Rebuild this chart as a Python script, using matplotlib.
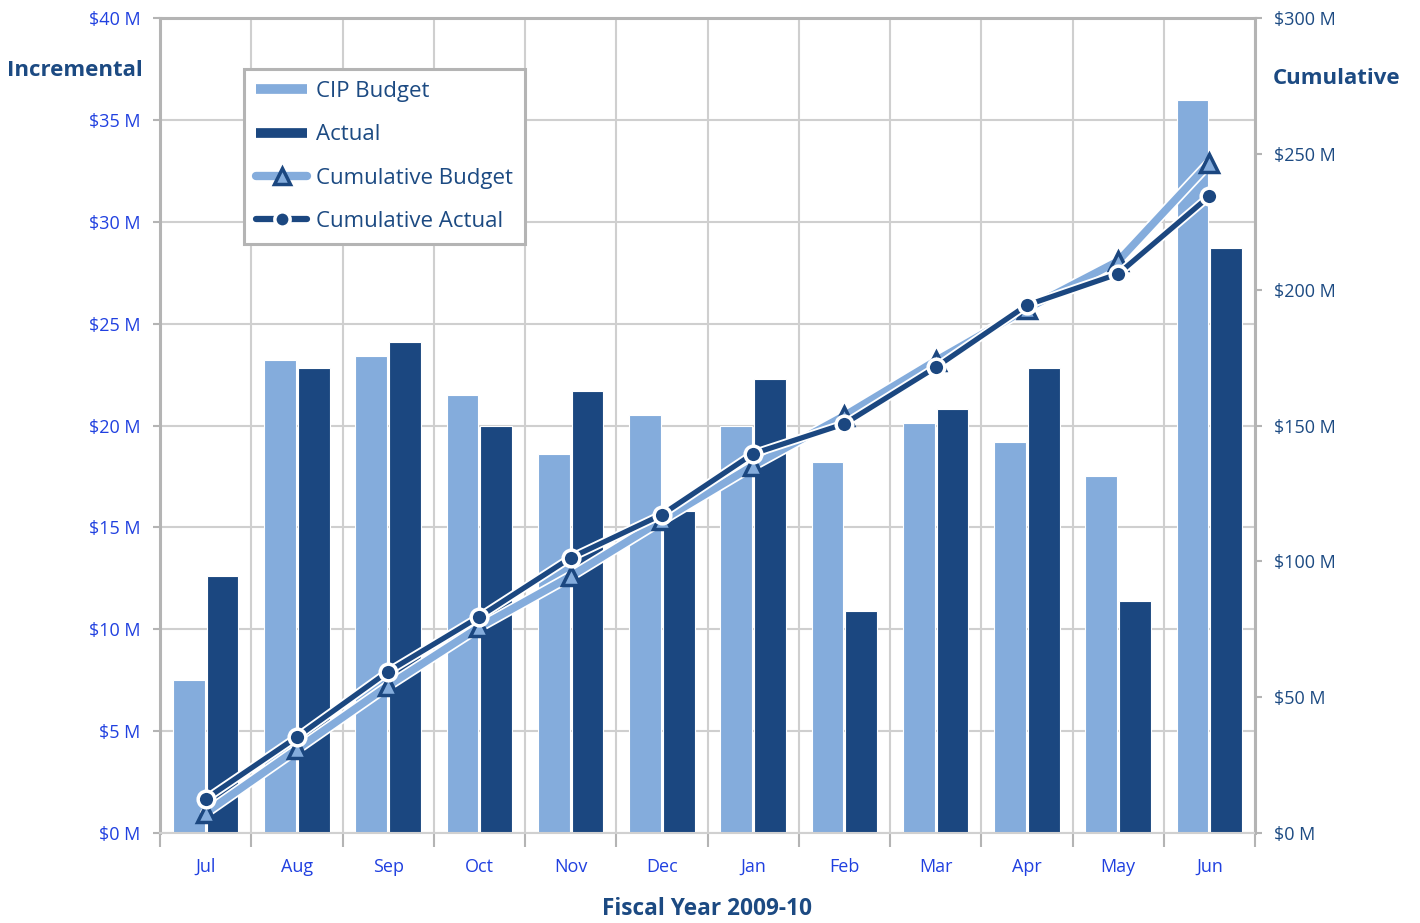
import matplotlib
matplotlib.use('Agg')
import matplotlib.pyplot as plt
import numpy as np
from matplotlib.lines import Line2D
import matplotlib.patheffects as pe

months = ['Jul', 'Aug', 'Sep', 'Oct', 'Nov', 'Dec', 'Jan', 'Feb', 'Mar', 'Apr', 'May', 'Jun']
budget = [7.5, 23.2, 23.4, 21.5, 18.6, 20.5, 20.0, 18.2, 20.1, 19.2, 17.5, 36.0]
actual = [12.6, 22.8, 24.1, 20.0, 21.7, 15.8, 22.3, 10.9, 20.8, 22.8, 11.4, 28.7]
cum_budget = [7.4, 30.8, 54.2, 75.8, 94.5, 115.1, 135.2, 153.6, 173.8, 193.0, 210.5, 246.6]
cum_actual = [12.5, 35.3, 59.4, 79.6, 101.3, 117.2, 139.6, 150.6, 171.4, 194.3, 205.8, 234.4]
left_ticks = [0, 5, 10, 15, 20, 25, 30, 35, 40]
right_ticks = [0, 50, 100, 150, 200, 250, 300]

LIGHT = '#84acdc'
DARK = '#1b4780'
GRID = '#cfcfcf'
SPINE = '#b4b4b4'
TICKBLUE = '#2040e0'
NAVY = '#1c4a82'
FONT = 'Open Sans'

W, H = 1420, 923
fig = plt.figure(figsize=(W / 100, H / 100), dpi=100)
ax = fig.add_axes([160 / W, 90 / H, 1095 / W, 815 / H])

x = np.arange(len(months))
bw = 0.35
ax.bar(x - 0.185, budget, bw, color=LIGHT, edgecolor='white', linewidth=0.8, zorder=2)
ax.bar(x + 0.185, actual, bw, color=DARK, edgecolor='white', linewidth=0.8, zorder=2)

ax.set_xlim(-0.5, len(months) - 0.5)
ax.set_ylim(0, 40)
ax.set_yticks(left_ticks)
ax.set_yticklabels([f'${v} M' for v in left_ticks], fontfamily=FONT, fontsize=13, color=TICKBLUE)
ax.set_xticks(x)
ax.set_xticklabels(months, fontfamily=FONT, fontsize=13, color=TICKBLUE)
ax.set_xticks(np.arange(-0.5, len(months), 1), minor=True)
ax.tick_params(axis='x', which='major', length=0, pad=18)
ax.tick_params(axis='x', which='minor', length=10, color=SPINE, width=1.5)
ax.tick_params(axis='y', length=5, color=SPINE, width=1.5, pad=9)
ax.grid(axis='y', which='major', color=GRID, lw=1.5, zorder=0)
ax.grid(axis='x', which='minor', color=GRID, lw=1.5, zorder=0)
ax.set_axisbelow(True)
for s in ['left', 'top', 'right']:
    ax.spines[s].set_color(SPINE)
    ax.spines[s].set_linewidth(2.2)
ax.spines['bottom'].set_color('#d0d0d0')
ax.spines['bottom'].set_linewidth(1.5)

ax2 = ax.twinx()
ax2.set_ylim(0, 300)
ax2.set_yticks(right_ticks)
ax2.set_yticklabels([f'${v} M' for v in right_ticks], fontfamily=FONT, fontsize=13, color=NAVY)
ax2.tick_params(axis='y', length=5, color=SPINE, width=1.5, pad=9)
for s in ['left', 'top', 'right', 'bottom']:
    ax2.spines[s].set_visible(False)

stroke = [pe.Stroke(linewidth=8, foreground='white'), pe.Normal()]
ax2.plot(x, cum_budget, color=LIGHT, lw=5.5, solid_capstyle='round', zorder=3,
         path_effects=stroke)
ax2.plot(x, cum_budget, ls='none', marker='^', ms=13, mfc=LIGHT, mec=DARK, mew=2.5, zorder=4)
stroke2 = [pe.Stroke(linewidth=6.5, foreground='white'), pe.Normal()]
ax2.plot(x, cum_actual, color=DARK, lw=3.8, solid_capstyle='round', zorder=5,
         path_effects=stroke2)
ax2.plot(x, cum_actual, ls='none', marker='o', ms=12, mfc=DARK, mec='white', mew=2.5, zorder=6)

handles = [
    Line2D([], [], color=LIGHT, lw=7, solid_capstyle='butt'),
    Line2D([], [], color=DARK, lw=7, solid_capstyle='butt'),
    Line2D([], [], color=LIGHT, lw=6, solid_capstyle='round', marker='^', ms=11,
           mfc=LIGHT, mec=DARK, mew=2.5),
    Line2D([], [], color=DARK, lw=4.5, solid_capstyle='round', marker='o', ms=11,
           mfc=DARK, mec='white', mew=2.5),
]
labels = ['CIP Budget', 'Actual', 'Cumulative Budget', 'Cumulative Actual']
leg = ax2.legend(handles, labels, loc='upper left', bbox_to_anchor=(84 / 1095, 764 / 815),
                 borderaxespad=0, frameon=True, fancybox=False, framealpha=1,
                 edgecolor=SPINE, prop={'family': FONT, 'size': 16},
                 handlelength=2.3, handletextpad=0.4, labelspacing=1.0,
                 borderpad=0.55)
leg.get_frame().set_linewidth(2.2)
for t in leg.get_texts():
    t.set_color(NAVY)
leg.set_zorder(10)

fig.text(143 / W, 1 - 71 / H, 'Incremental', ha='right', va='center', fontfamily=FONT,
         fontweight='bold', fontsize=16, color=NAVY)
fig.text(1273 / W, 1 - 79 / H, 'Cumulative', ha='left', va='center', fontfamily=FONT,
         fontweight='bold', fontsize=16, color=NAVY)
fig.text(707 / W, 1 - 909 / H, 'Fiscal Year 2009-10', ha='center', va='center', fontfamily=FONT,
         fontweight='bold', fontsize=16.3, color=NAVY)

fig.savefig('out.png', dpi=100, facecolor='white')
